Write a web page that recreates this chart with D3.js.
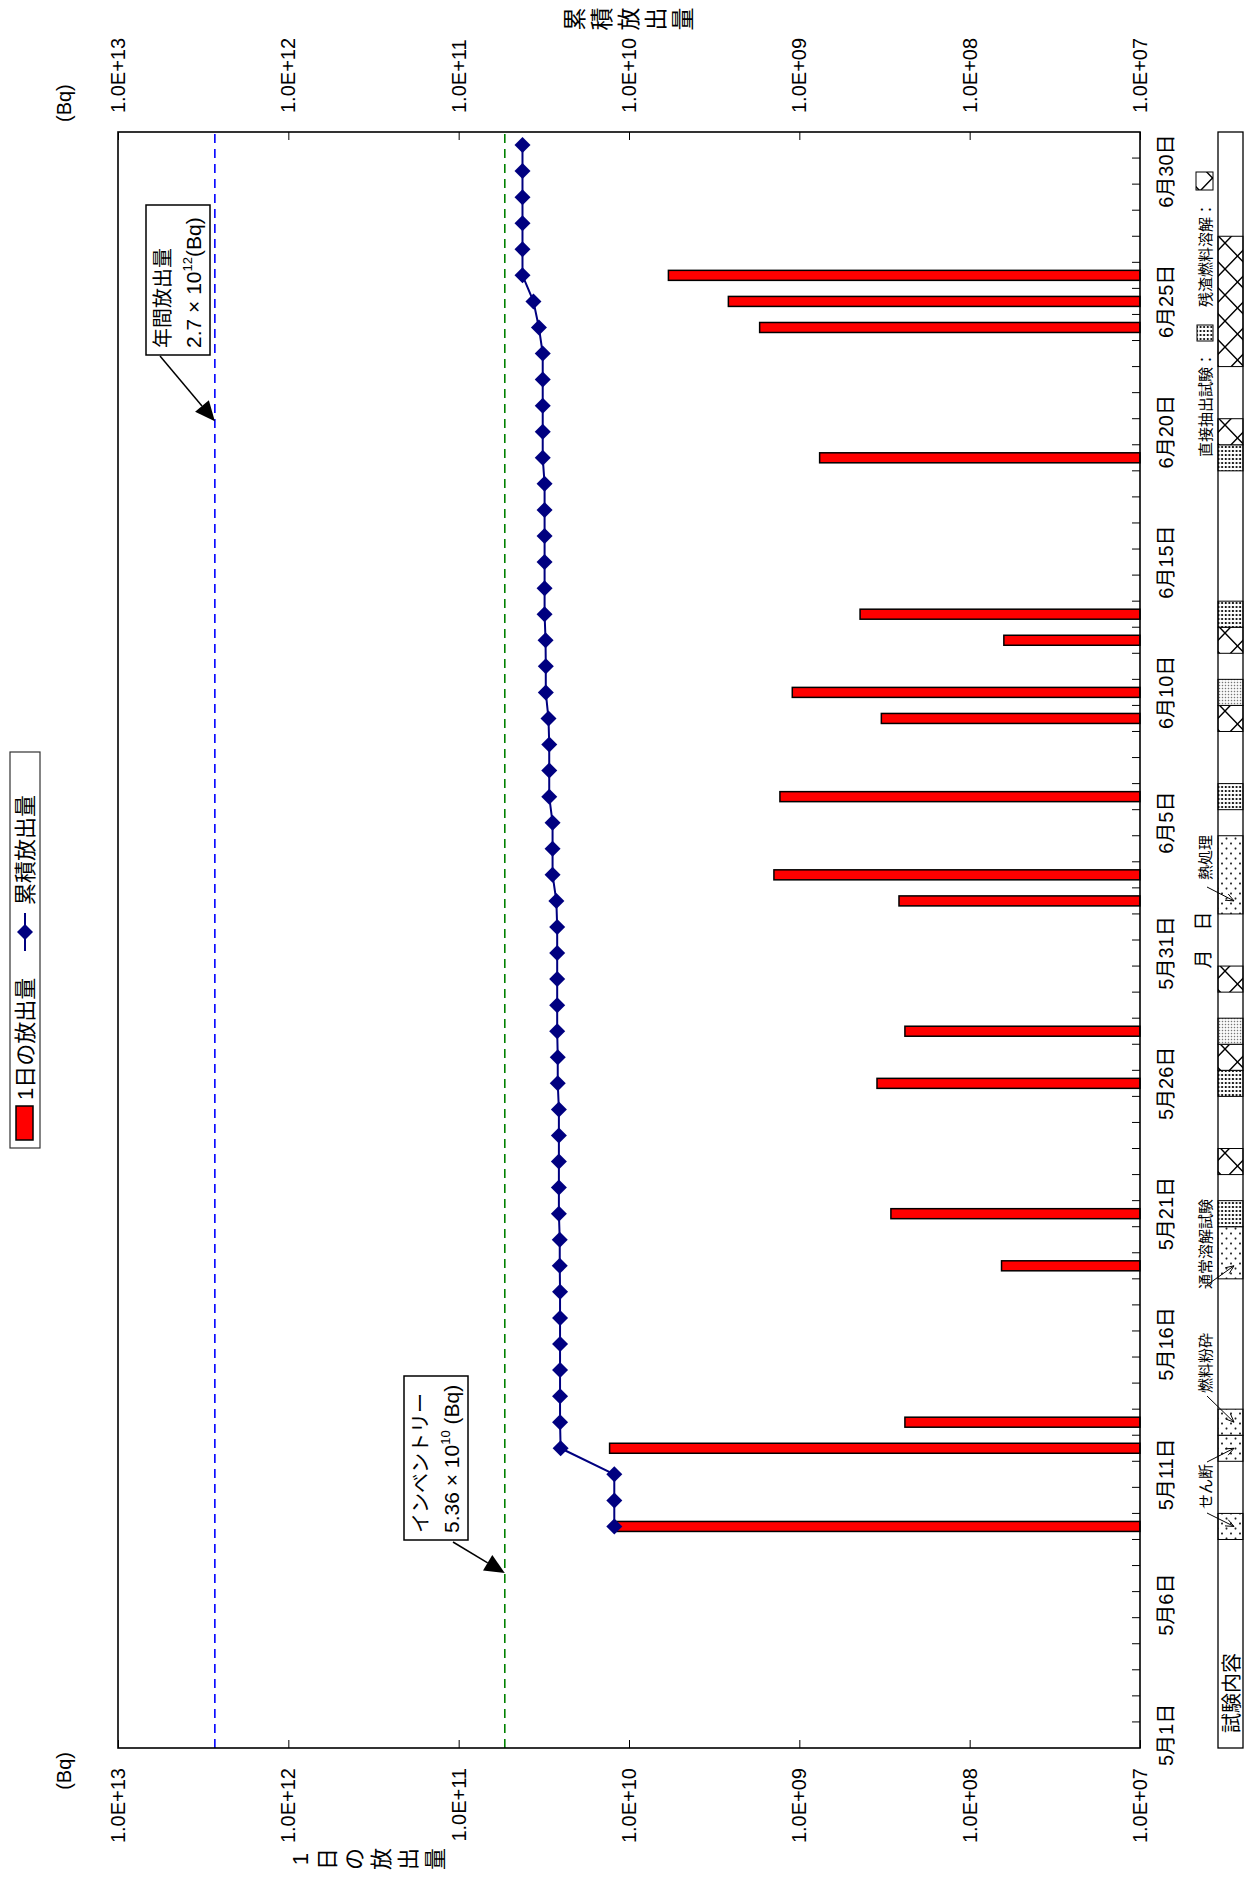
<!DOCTYPE html>
<html>
<head>
<meta charset="utf-8">
<script src="https://cdn.jsdelivr.net/npm/d3@7"></script>
<style>
  html, body { margin: 0; padding: 0; background: #fff; }
  svg { display: block; }
  text { font-family: "Liberation Sans", "Noto Sans CJK JP", Arial, sans-serif; fill: #000; }
</style>
</head>
<body>
<svg id="chart" width="1245" height="1881"></svg>
<script>
// ---- data -------------------------------------------------------------
const categories = [
  "5/1","5/2","5/3","5/4","5/5","5/6","5/7","5/8","5/9","5/10",
  "5/11","5/12","5/13","5/14","5/15","5/16","5/17","5/18","5/19","5/20",
  "5/21","5/22","5/23","5/24","5/25","5/26","5/27","5/28","5/29","5/30","5/31",
  "6/1","6/2","6/3","6/4","6/5","6/6","6/7","6/8","6/9","6/10",
  "6/11","6/12","6/13","6/14","6/15","6/16","6/17","6/18","6/19","6/20",
  "6/21","6/22","6/23","6/24","6/25","6/26","6/27","6/28","6/29","6/30","7/1"
];
const dateTicks = ["5/1","5/6","5/11","5/16","5/21","5/26","5/31","6/5","6/10","6/15","6/20","6/25","6/30"];
const valueTicks = [1e7, 1e8, 1e9, 1e10, 1e11, 1e12, 1e13];

// daily release (Bq)
const releaseDates  = ["5/9","5/12","5/13","5/19","5/21","5/26","5/28","6/2","6/3","6/6","6/9","6/10","6/12","6/13","6/19","6/24","6/25","6/26"];
const releaseValues = [1.22e10, 1.30e10, 2.4e8, 6.5e7, 2.9e8, 3.5e8, 2.4e8, 2.6e8, 1.41e9, 1.30e9, 3.3e8, 1.10e9, 6.3e7, 4.4e8, 7.6e8, 1.71e9, 2.61e9, 5.87e9];

// cumulative release (Bq), 5/9 .. 7/1
const cumDates = categories.slice(categories.indexOf("5/9"));
const cumValues = [
  1.22e10, 1.22e10, 1.22e10, 2.52e10, 2.54e10, 2.54e10, 2.54e10, 2.54e10, 2.54e10, 2.54e10,
  2.55e10, 2.55e10, 2.58e10, 2.58e10, 2.58e10, 2.58e10, 2.58e10, 2.62e10, 2.62e10, 2.64e10,
  2.64e10, 2.64e10, 2.64e10, 2.64e10, 2.67e10, 2.81e10, 2.81e10, 2.81e10, 2.94e10, 2.94e10,
  2.94e10, 2.97e10, 3.08e10, 3.08e10, 3.09e10, 3.13e10, 3.13e10, 3.13e10, 3.13e10, 3.13e10,
  3.13e10, 3.21e10, 3.21e10, 3.21e10, 3.21e10, 3.21e10, 3.38e10, 3.64e10, 4.22e10, 4.22e10,
  4.22e10, 4.22e10, 4.22e10, 4.22e10
];

const annualLimit = 2.7e12;   // 年間放出量
const inventory   = 5.36e10;  // インベントリー

// test schedule strip: treat = pretreatment / dissolution, extract = 直接抽出試験,
// extractB = second extraction run, residue = 残渣燃料溶解
const tests = [
  {from: "5/9",  to: "5/9",  kind: "treat"},
  {from: "5/12", to: "5/12", kind: "treat"},
  {from: "5/13", to: "5/13", kind: "treat"},
  {from: "5/19", to: "5/20", kind: "treat"},
  {from: "5/21", to: "5/21", kind: "extract"},
  {from: "5/23", to: "5/23", kind: "residue"},
  {from: "5/26", to: "5/26", kind: "extract"},
  {from: "5/27", to: "5/27", kind: "residue"},
  {from: "5/28", to: "5/28", kind: "extractB"},
  {from: "5/30", to: "5/30", kind: "residue"},
  {from: "6/2",  to: "6/4",  kind: "treat"},
  {from: "6/6",  to: "6/6",  kind: "extract"},
  {from: "6/9",  to: "6/9",  kind: "residue"},
  {from: "6/10", to: "6/10", kind: "extractB"},
  {from: "6/12", to: "6/12", kind: "residue"},
  {from: "6/13", to: "6/13", kind: "extract"},
  {from: "6/19", to: "6/19", kind: "extract"},
  {from: "6/20", to: "6/20", kind: "residue"},
  {from: "6/23", to: "6/27", kind: "residue"}
];

// ---- layout (drawn landscape, then turned a quarter to portrait) -----
const svg = d3.select("#chart");
svg.append("rect").attr("width", 1245).attr("height", 1881).attr("fill", "#fff");

const defs = svg.append("defs");
function pattern(id, w, h) {
  const p = defs.append("pattern").attr("id", id)
    .attr("patternUnits", "userSpaceOnUse").attr("width", w).attr("height", h);
  p.append("rect").attr("width", w).attr("height", h).attr("fill", "#fff");
  return p;
}
const pTreat = pattern("pat-treat", 10, 9);
pTreat.append("circle").attr("cx", 2.5).attr("cy", 2.5).attr("r", 1.1).attr("fill", "#222");
pTreat.append("circle").attr("cx", 7.5).attr("cy", 7).attr("r", 1.1).attr("fill", "#222");
const pExtract = pattern("pat-extract", 4, 3.6);
pExtract.append("circle").attr("cx", 2).attr("cy", 1.8).attr("r", 1.05).attr("fill", "#000");
const pExtractB = pattern("pat-extractB", 3, 3);
pExtractB.append("rect").attr("x", 0.8).attr("y", 0.8).attr("width", 1.4).attr("height", 1.4).attr("fill", "#777");
const pResidue = pattern("pat-residue", 26, 25);
pResidue.append("path").attr("d", "M0,0L26,25M0,25L26,0")
  .attr("stroke", "#000").attr("stroke-width", 1.4).attr("fill", "none");
const fillFor = {treat: "url(#pat-treat)", extract: "url(#pat-extract)", extractB: "url(#pat-extractB)", residue: "url(#pat-residue)"};

const g = svg.append("g").attr("transform", "translate(0,1881) rotate(-90)");

const plot = {left: 133, right: 1749, top: 118, bottom: 1140};
const x = d3.scaleBand().domain(categories).range([plot.left, plot.right]);
const bw = x.bandwidth();
const y = d3.scaleLog().domain([1e7, 1e13]).range([plot.bottom, plot.top]);
const sci = v => "1.0E+" + String(Math.round(Math.log10(v))).padStart(2, "0");
const jpDate = d => { const [m, dd] = d.split("/"); return m + "月" + dd + "日"; };

// value axes on both sides, ticks pointing inward
const leftAxis = g.append("g").attr("transform", `translate(${plot.left},0)`)
  .call(d3.axisLeft(y).tickValues(valueTicks).tickFormat(sci).tickSize(-8).tickPadding(20));
const rightAxis = g.append("g").attr("transform", `translate(${plot.right},0)`)
  .call(d3.axisRight(y).tickValues(valueTicks).tickFormat(sci).tickSize(-8).tickPadding(19));
[leftAxis, rightAxis].forEach(a => {
  a.select(".domain").remove();
  a.selectAll(".tick line").attr("stroke", "#000").attr("stroke-width", 1);
  a.selectAll(".tick text").attr("font-size", 20).attr("font-family", null);
});

// date axis: label every fifth day, tick at every day boundary
const dateAxis = g.append("g").attr("transform", `translate(0,${plot.bottom})`)
  .call(d3.axisBottom(x).tickValues(dateTicks).tickFormat(jpDate).tickSize(0).tickPadding(19));
dateAxis.select(".domain").remove();
dateAxis.selectAll(".tick text").attr("font-size", 20).attr("font-family", null);
g.append("g").selectAll("line").data(categories.slice(1)).join("line")
  .attr("x1", d => x(d)).attr("x2", d => x(d))
  .attr("y1", plot.bottom).attr("y2", plot.bottom - 8)
  .attr("stroke", "#000").attr("stroke-width", 1);

// unit labels
g.append("text").attr("x", 129).attr("y", 71).attr("text-anchor", "end").attr("font-size", 20).text("(Bq)");
g.append("text").attr("x", 1759).attr("y", 71).attr("font-size", 20).text("(Bq)");

// stacked axis titles
function stacked(chars, cx, firstCy, step, size) {
  g.append("g").selectAll("text").data(Array.from(chars)).join("text")
    .attr("x", cx).attr("y", (d, i) => firstCy + i * step + size * 0.36)
    .attr("text-anchor", "middle").attr("font-size", size).text(d => d);
}
stacked("1日の放出量", 22, 300, 27, 22);
stacked("累積放出量", 1862, 575, 27, 23);

// daily release bars
const daily = releaseDates.map((d, i) => ({date: d, v: releaseValues[i]}));
const barW = 10;
g.append("g").selectAll("rect").data(daily).join("rect")
  .attr("x", d => x(d.date) + bw / 2 - barW / 2)
  .attr("width", barW)
  .attr("y", d => y(d.v))
  .attr("height", d => plot.bottom - y(d.v))
  .attr("fill", "#ff0000").attr("stroke", "#000").attr("stroke-width", 1.5);

// reference lines
function refLine(v, color) {
  g.append("line").attr("x1", plot.left).attr("x2", plot.right)
    .attr("y1", y(v)).attr("y2", y(v))
    .attr("stroke", color).attr("stroke-width", 1.6).attr("stroke-dasharray", "9,6");
}
refLine(annualLimit, "#0000ff");
refLine(inventory, "#008000");

// cumulative release line with diamond markers
const diamond = "M0,-8L8,0L0,8L-8,0Z";
const cum = cumDates.map((d, i) => ({date: d, v: cumValues[i]}));
g.append("path").datum(cum)
  .attr("d", d3.line().x(d => x(d.date) + bw / 2).y(d => y(d.v)))
  .attr("fill", "none").attr("stroke", "#000080").attr("stroke-width", 2);
g.append("g").selectAll("path").data(cum).join("path")
  .attr("transform", d => `translate(${x(d.date) + bw / 2},${y(d.v)})`)
  .attr("d", diamond)
  .attr("fill", "#000080");

// plot frame
g.append("rect").attr("x", plot.left).attr("y", plot.top)
  .attr("width", plot.right - plot.left).attr("height", plot.bottom - plot.top)
  .attr("fill", "none").attr("stroke", "#000").attr("stroke-width", 1.6);

// callout boxes with filled arrows
function filledArrow(x1, y1, x2, y2) {
  const a = Math.atan2(y2 - y1, x2 - x1), len = 20, half = 9;
  const bx = x2 - len * Math.cos(a), by = y2 - len * Math.sin(a);
  g.append("line").attr("x1", x1).attr("y1", y1).attr("x2", bx).attr("y2", by)
    .attr("stroke", "#000").attr("stroke-width", 1.5);
  const px = -Math.sin(a) * half, py = Math.cos(a) * half;
  g.append("path").attr("d", `M${x2},${y2}L${bx + px},${by + py}L${bx - px},${by - py}Z`).attr("fill", "#000");
}
function callout(bx, by, w, h, line1, base, sup, tail) {
  g.append("rect").attr("x", bx).attr("y", by).attr("width", w).attr("height", h)
    .attr("fill", "#fff").attr("stroke", "#000").attr("stroke-width", 1.5);
  g.append("text").attr("x", bx + 7).attr("y", by + 24).attr("font-size", 20).text(line1);
  const t = g.append("text").attr("x", bx + 7).attr("y", by + 55).attr("font-size", 21);
  t.append("tspan").text(base);
  t.append("tspan").attr("dy", -9).attr("font-size", 13).text(sup);
  t.append("tspan").attr("dy", 9).text(tail);
}
{
  // annual limit
  const sx = 1525, sy = 160, dx = -88, dy = 74;
  const ty = y(annualLimit), t = (ty - sy) / dy;
  filledArrow(sx, sy, sx + dx * t, ty);
  callout(1526, 146, 150, 64, "年間放出量", "2.7 × 10", "12", "(Bq)");
}
{
  // inventory
  const sx = 339, sy = 453, dx = -30, dy = 50;
  const ty = y(inventory), t = (ty - sy) / dy;
  filledArrow(sx, sy, sx + dx * t, ty);
  callout(341, 404, 164, 64, "インベントリー", "5.36 × 10", "10", " (Bq)");
}

// legend
g.append("rect").attr("x", 733).attr("y", 10).attr("width", 396).attr("height", 30)
  .attr("fill", "#fff").attr("stroke", "#333").attr("stroke-width", 1.2);
g.append("rect").attr("x", 741).attr("y", 16).attr("width", 34).attr("height", 17)
  .attr("fill", "#ff0000").attr("stroke", "#000").attr("stroke-width", 1.5);
g.append("text").attr("x", 781).attr("y", 33).attr("font-size", 22).text("1日の放出量");
g.append("line").attr("x1", 930).attr("x2", 968).attr("y1", 25).attr("y2", 25)
  .attr("stroke", "#000080").attr("stroke-width", 2);
g.append("path").attr("transform", "translate(949,25)").attr("d", diamond).attr("fill", "#000080");
g.append("text").attr("x", 976).attr("y", 33).attr("font-size", 22).text("累積放出量");

// test schedule strip
const strip = {top: 1218, bottom: 1243};
g.append("g").selectAll("rect").data(tests).join("rect")
  .attr("x", d => x(d.from)).attr("width", d => x(d.to) + bw - x(d.from))
  .attr("y", strip.top).attr("height", strip.bottom - strip.top)
  .attr("fill", d => fillFor[d.kind]).attr("stroke", "#000").attr("stroke-width", 1);
g.append("rect").attr("x", plot.left).attr("y", strip.top)
  .attr("width", plot.right - plot.left).attr("height", strip.bottom - strip.top)
  .attr("fill", "none").attr("stroke", "#000").attr("stroke-width", 1.3);
g.append("text").attr("x", 148).attr("y", 1239).attr("font-size", 20).text("試験内容");

// date axis title
g.append("text").attr("x", (plot.left + plot.right) / 2).attr("y", 1210)
  .attr("text-anchor", "middle").attr("font-size", 19).text("月　日");

// step labels with pointer arrows
function openArrow(x1, y1, x2, y2) {
  const a = Math.atan2(y2 - y1, x2 - x1), len = 9, spread = 0.4;
  const p1 = [x2 - len * Math.cos(a - spread), y2 - len * Math.sin(a - spread)];
  const p2 = [x2 - len * Math.cos(a + spread), y2 - len * Math.sin(a + spread)];
  g.append("path").attr("d", `M${x1},${y1}L${x2},${y2}M${p1[0]},${p1[1]}L${x2},${y2}L${p2[0]},${p2[1]}`)
    .attr("fill", "none").attr("stroke", "#000").attr("stroke-width", 1);
}
function stepLabel(text, tx, arrows) {
  g.append("text").attr("x", tx).attr("y", 1211).attr("font-size", 15).text(text);
  arrows.forEach(([from, to]) => openArrow(from, 1207, x(to) + bw / 2, 1234));
}
stepLabel("せん断", 372, [[368, "5/9"], [419, "5/12"]]);
stepLabel("燃料粉砕", 488, [[485, "5/13"]]);
stepLabel("通常溶解試験", 592, [[596, "5/19"]]);
stepLabel("熱処理", 1001, [[994, "6/2"]]);

// strip legend
g.append("text").attr("x", 1424).attr("y", 1211).attr("font-size", 15).text("直接抽出試験：");
g.append("rect").attr("x", 1540).attr("y", 1197).attr("width", 16).attr("height", 16)
  .attr("fill", fillFor.extract).attr("stroke", "#000").attr("stroke-width", 1);
g.append("text").attr("x", 1574).attr("y", 1211).attr("font-size", 15).text("残渣燃料溶解：");
g.append("rect").attr("x", 1691).attr("y", 1196).attr("width", 18).attr("height", 17)
  .attr("fill", fillFor.residue).attr("stroke", "#000").attr("stroke-width", 1);
</script>
</body>
</html>
